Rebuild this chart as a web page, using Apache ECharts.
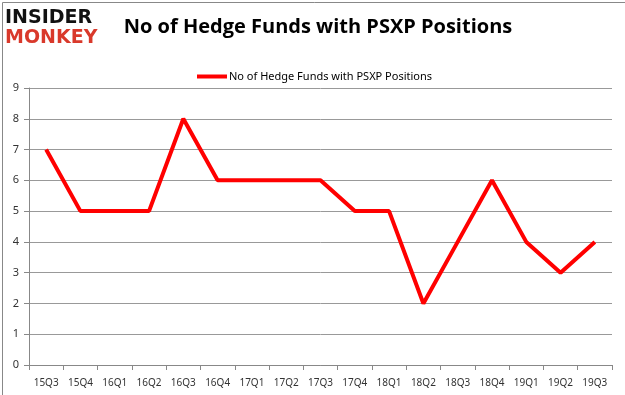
<!DOCTYPE html>
<html><head><meta charset="utf-8">
<script src="https://cdn.jsdelivr.net/npm/echarts@6/dist/echarts.min.js"></script>
<style>html,body{margin:0;padding:0;background:#fff}#c{width:625px;height:395px}</style>
</head><body><div id="c"></div>
<script>
const categories = ['15Q3','15Q4','16Q1','16Q2','16Q3','16Q4','17Q1','17Q2','17Q3','17Q4','18Q1','18Q2','18Q3','18Q4','19Q1','19Q2','19Q3'];
const seriesName = 'No of Hedge Funds with PSXP Positions';
const values = [7,5,5,5,8,6,6,6,6,5,5,2,4,6,4,3,4];
const yTicks = [0,1,2,3,4,5,6,7,8,9];

const chart = echarts.init(document.getElementById('c'));
chart.setOption({
  animation: false,
  backgroundColor: '#fff',
  title: {
    text: 'No of Hedge Funds with PSXP Positions',
    left: 313, top: 12, textAlign: 'center',
    textStyle: {fontFamily: 'Open Sans', fontWeight: 'bold', fontSize: 20, color: '#000'}
  },
  legend: {
    data: [seriesName], top: 66, left: 192,
    itemWidth: 30, itemHeight: 4, itemGap: 2,
    icon: 'rect',
    textStyle: {fontFamily: 'Noto Sans', fontSize: 11, color: '#000', padding: [0,0,0,-3]}
  },
  graphic: [
    {type: 'rect', left: 0, top: 0, shape: {width: 624, height: 394}, style: {fill: 'none', stroke: '#888', lineWidth: 1}},
    {type: 'text', left: 5, top: 9, style: {text: 'INSIDER', fill: '#111', font: 'bold 19px "DejaVu Sans"'}},
    {type: 'text', left: 5, top: 29, style: {text: 'MONKEY', fill: '#d9392b', font: 'bold 19px "DejaVu Sans"'}}
  ],
  grid: {left: 29, right: 13, top: 88, bottom: 30},
  xAxis: {
    type: 'category', data: categories, boundaryGap: true,
    axisLine: {lineStyle: {color: '#888'}},
    axisTick: {show: true, length: 5, interval: 0, lineStyle: {color: '#888'}},
    axisLabel: {color: '#333', fontFamily: 'Noto Sans', fontSize: 10, margin: 13, interval: 0}
  },
  yAxis: {
    type: 'value', min: 0, max: 9, interval: 1,
    axisLine: {show: true, lineStyle: {color: '#888'}},
    axisTick: {show: true, length: 5, inside: false, lineStyle: {color: '#888'}},
    axisLabel: {color: '#333', fontFamily: 'Noto Sans', fontSize: 11, margin: 10},
    splitLine: {lineStyle: {color: '#999'}}
  },
  series: [{
    name: seriesName, type: 'line', data: values,
    symbol: 'none', lineStyle: {color: '#ff0000', width: 4}, itemStyle: {color: '#ff0000'}
  }]
});
</script></body></html>
